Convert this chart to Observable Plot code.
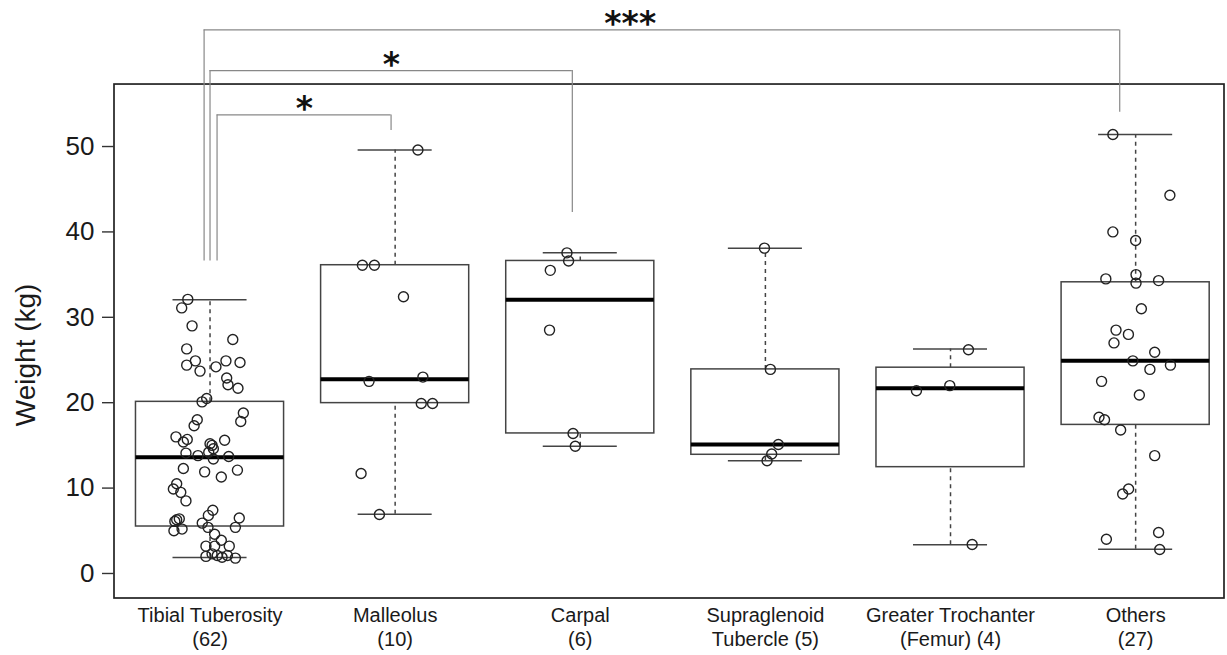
<!DOCTYPE html>
<html>
<head>
<meta charset="utf-8">
<script src="https://cdn.jsdelivr.net/npm/d3@7"></script>
<script src="https://cdn.jsdelivr.net/npm/@observablehq/plot@0.6"></script>
<style>
  html, body { margin: 0; padding: 0; background: #fff; }
  #chart { width: 1227px; height: 655px; }
</style>
</head>
<body>
<div id="chart"></div>
<script>
// ---- Data ----
const categories = ["Tibial Tuberosity\n(62)", "Malleolus\n(10)", "Carpal\n(6)", "Supraglenoid\nTubercle (5)", "Greater Trochanter\n(Femur) (4)", "Others\n(27)"];
const whiskerLow  = [1.87, 6.95, 14.9, 13.2, 3.36, 2.85];
const q1          = [5.5, 19.95, 16.4, 13.9, 12.45, 17.4];
const median      = [13.6, 22.75, 32.05, 15.1, 21.7, 24.9];
const q3          = [20.1, 36.1, 36.6, 23.9, 24.1, 34.1];
const whiskerHigh = [32.05, 49.6, 37.55, 38.1, 26.3, 51.4];

// individual observations: weight (kg) and horizontal jitter (in category widths)
const tibialValues = [32.1, 31.1, 29.0, 27.4, 26.3, 24.9, 24.4, 23.7, 24.2, 24.9, 24.7, 22.9, 22.1, 21.7, 20.1, 20.5, 18.8, 17.8, 18.0, 17.3, 16.0, 15.4, 15.7, 15.6, 15.0, 14.6, 14.1, 13.8, 14.2, 13.4, 13.7, 12.3, 11.9, 11.3, 12.1, 10.5, 9.9, 9.5, 8.5, 7.4, 6.8, 6.4, 6.3, 5.9, 6.5, 5.4, 5.4, 5.0, 5.2, 4.6, 3.9, 3.2, 3.2, 3.2, 2.0, 2.3, 2.1, 1.9, 2.1, 1.8, 15.2, 6.1];
const tibialJitter = [-0.12, -0.153, -0.097, 0.123, -0.126, -0.079, -0.126, -0.054, 0.032, 0.086, 0.162, 0.09, 0.097, 0.151, -0.043, -0.018, 0.18, 0.166, -0.069, -0.086, -0.184, -0.144, -0.123, 0.079, 0.011, 0.018, -0.13, -0.065, -0.007, 0.018, 0.101, -0.144, -0.029, 0.061, 0.148, -0.18, -0.198, -0.158, -0.13, 0.015, -0.009, -0.166, -0.18, -0.042, 0.158, -0.011, 0.137, -0.195, -0.151, 0.025, 0.061, -0.022, 0.025, 0.104, -0.022, 0.011, 0.039, 0.065, 0.094, 0.137, 0.0, -0.19];
const malleolusValues = [49.6, 36.1, 36.1, 32.4, 22.5, 23.0, 19.9, 19.9, 11.7, 6.9];
const malleolusJitter = [0.123, -0.177, -0.112, 0.045, -0.141, 0.15, 0.141, 0.202, -0.184, -0.085];
const carpalValues = [37.55, 36.6, 35.5, 28.5, 16.4, 14.9];
const carpalJitter = [-0.072, -0.063, -0.162, -0.166, -0.039, -0.027];
const supraValues = [38.1, 23.9, 15.1, 14.0, 13.2];
const supraJitter = [-0.005, 0.027, 0.07, 0.034, 0.009];
const trochValues = [26.2, 22.0, 21.4, 3.4];
const trochJitter = [0.097, -0.004, -0.184, 0.117];
const othersValues = [51.4, 44.3, 40.0, 39.0, 34.5, 35.0, 34.0, 34.3, 31.0, 28.5, 28.0, 27.0, 25.9, 24.9, 24.4, 23.9, 22.5, 20.9, 18.3, 18.0, 16.8, 13.8, 9.9, 9.3, 4.8, 4.0, 2.8];
const othersJitter = [-0.123, 0.185, -0.123, 0.0, -0.161, 0.002, 0.002, 0.124, 0.031, -0.106, -0.039, -0.117, 0.103, -0.015, 0.188, 0.077, -0.184, 0.02, -0.198, -0.168, -0.081, 0.103, -0.038, -0.07, 0.124, -0.158, 0.13];

// significance brackets (x in category positions, y in kg)
const bracketLabels = ["*", "*", "***"];
const bracketLeft   = [1.038, 1.0, 0.968];
const bracketRight  = [1.978, 2.957, 5.914];
const bracketLabelX = [1.51, 1.98, 3.27];
const bracketTop    = [53.7, 58.9, 63.66];
const bracketLeftEnd  = [36.6, 36.6, 36.6];
const bracketRightEnd = [51.87, 42.27, 54.0];

const yTicks = [0, 10, 20, 30, 40, 50];
const yTitle = "Weight (kg)";
const yTitleAt = 25.6;

// ---- Build tables ----
const pos = categories.map((_, i) => i + 1);
const boxes = categories.map((c, i) => ({pos: pos[i], lo: whiskerLow[i], q1: q1[i], med: median[i], q3: q3[i], hi: whiskerHigh[i]}));
const groups = [[tibialValues, tibialJitter], [malleolusValues, malleolusJitter], [carpalValues, carpalJitter], [supraValues, supraJitter], [trochValues, trochJitter], [othersValues, othersJitter]];
const points = groups.flatMap(([vals, jit], i) => vals.map((v, j) => ({x: pos[i] + jit[j], y: v})));
const brackets = bracketLabels.map((l, i) => ({label: l, x1: bracketLeft[i], x2: bracketRight[i], lx: bracketLabelX[i], top: bracketTop[i], lEnd: bracketLeftEnd[i], rEnd: bracketRightEnd[i]}));

const xDomain = [0.484, 6.48];
const yFrame = [-2.93, 57.26];
const yDomain = [-2.93, 66];
const font = "'Liberation Sans', Arial, Helvetica, sans-serif";
const half = 0.4, cap = 0.2;

const chart = Plot.plot({
  width: 1227,
  height: 655,
  marginLeft: 114,
  marginRight: 3,
  marginTop: 9.4,
  marginBottom: 57,
  style: {fontFamily: font, background: "#fff", color: "#1a1a1a"},
  x: {type: "linear", domain: xDomain, axis: null},
  y: {domain: yDomain, axis: null},
  marks: [
    // plot frame
    Plot.rect([0], {x1: xDomain[0], x2: xDomain[1], y1: yFrame[0], y2: yFrame[1], fill: "none", stroke: "#222", strokeWidth: 1.7}),
    Plot.axisY({ticks: yTicks, tickSize: 12, tickPadding: 8, fontSize: 26, stroke: "#333", strokeWidth: 1.4, label: null}),
    Plot.text([yTitle], {x: [xDomain[0]], y: [yTitleAt], dx: -88, rotate: -90, fontSize: 28, fill: "#1a1a1a"}),
    Plot.text(categories, {x: (d, i) => pos[i], frameAnchor: "bottom", lineAnchor: "top", dy: 6, fontSize: 20, lineHeight: 1.2, fill: "#1a1a1a"}),
    // whiskers
    Plot.ruleX(boxes, {x: "pos", y1: "q3", y2: "hi", stroke: "#444", strokeWidth: 1.5, strokeDasharray: "4,4"}),
    Plot.ruleX(boxes, {x: "pos", y1: "lo", y2: "q1", stroke: "#444", strokeWidth: 1.5, strokeDasharray: "4,4"}),
    Plot.ruleY(boxes, {y: "hi", x1: d => d.pos - cap, x2: d => d.pos + cap, stroke: "#444", strokeWidth: 1.5}),
    Plot.ruleY(boxes, {y: "lo", x1: d => d.pos - cap, x2: d => d.pos + cap, stroke: "#444", strokeWidth: 1.5}),
    // boxes
    Plot.rect(boxes, {x1: d => d.pos - half, x2: d => d.pos + half, y1: "q1", y2: "q3", fill: "none", stroke: "#444", strokeWidth: 1.5}),
    Plot.ruleY(boxes, {y: "med", x1: d => d.pos - half, x2: d => d.pos + half, stroke: "#000", strokeWidth: 4}),
    // observations
    Plot.dot(points, {x: "x", y: "y", r: 5, fill: "none", stroke: "#222", strokeWidth: 1.4}),
    // significance brackets
    Plot.ruleY(brackets, {y: "top", x1: "x1", x2: "x2", stroke: "#888", strokeWidth: 1.2}),
    Plot.ruleX(brackets, {x: "x1", y1: "top", y2: "lEnd", stroke: "#888", strokeWidth: 1.2}),
    Plot.ruleX(brackets, {x: "x2", y1: "top", y2: "rEnd", stroke: "#888", strokeWidth: 1.2}),
    Plot.text(brackets, {x: "lx", y: "top", text: "label", fontFamily: "'DejaVu Sans', sans-serif", fontWeight: "bold", fontSize: 33, lineAnchor: "bottom", dy: 5, fill: "#111"})
  ]
});
document.getElementById("chart").appendChild(chart);
</script>
</body>
</html>
